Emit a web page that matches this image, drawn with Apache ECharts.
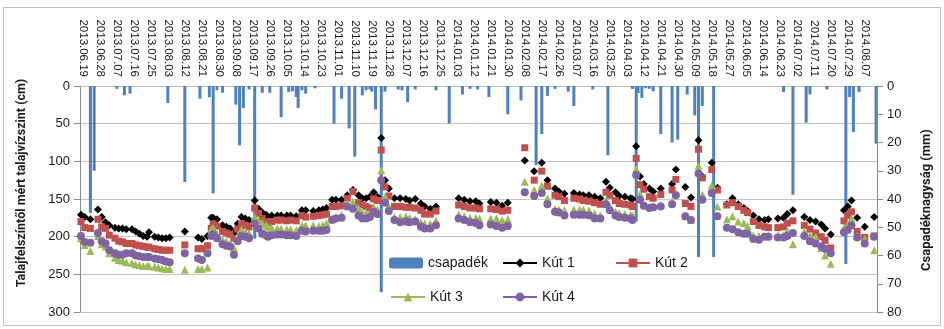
<!DOCTYPE html>
<html>
<head>
<meta charset="utf-8">
<script src="https://cdn.jsdelivr.net/npm/echarts@6.0.0/dist/echarts.min.js"></script>
<style>
  html, body { margin: 0; padding: 0; background: #ffffff; }
  #chart { width: 944px; height: 329px; }
</style>
</head>
<body>
<div id="chart"></div>
<script>
// Daily axis: one category per day starting at firstDay
const firstDay = [2013, 6, 18];
const dayCount = 422;

// Dates printed along the top axis (every 9th day)
const tickLabels = [
  '2013.06.19','2013.06.28','2013.07.07','2013.07.16','2013.07.25','2013.08.03','2013.08.12',
  '2013.08.21','2013.08.30','2013.09.08','2013.09.17','2013.09.26','2013.10.05','2013.10.14',
  '2013.10.23','2013.11.01','2013.11.10','2013.11.19','2013.11.28','2013.12.07','2013.12.16',
  '2013.12.25','2014.01.03','2014.01.12','2014.01.21','2014.01.30','2014.02.08','2014.02.17',
  '2014.02.26','2014.03.07','2014.03.16','2014.03.25','2014.04.03','2014.04.12','2014.04.21',
  '2014.04.30','2014.05.09','2014.05.18','2014.05.27','2014.06.05','2014.06.14','2014.06.23',
  '2014.07.02','2014.07.11','2014.07.20','2014.07.29','2014.08.07'
];

// Precipitation: day index (from firstDay) and amount in mm
const rainDay = [5,7,19,23,26,46,55,63,68,70,72,75,82,84,86,89,92,96,100,106,110,112,114,115,117,119,124,
  134,138,142,145,149,151,153,154,156,159,161,168,170,173,177,188,195,202,206,210,216,226,233,241,244,247,
  251,258,261,271,279,292,294,295,297,299,301,303,307,313,316,321,325,327,329,335,372,377,384,386,395,405,
  407,409,412,421];
const rainMm = [45,30,1,3.3,2.7,6,34,4.5,4,38,1.5,2.4,6.6,21,7.8,1.2,54,2.4,2.4,11,2.1,1.9,3.9,7.8,1.5,2.7,0.8,
  13.3,4.5,15,25,3.3,1.5,1.2,2,8.3,73,2,1.2,1.5,5.7,1.2,1.5,13.3,3,1,1.2,3.9,10,5.1,28,17,3.5,
  1,2,7.1,1.2,24.5,1,48,2.5,4.2,0.8,1,1.9,17,20,19,3,10.4,60.5,7.1,60.5,2.1,38.5,13,3,1.2,63,
  3.9,16.3,2.1,20.4];

// Groundwater readings: day index (from firstDay) of each measurement
const measureDay = [
  0,2,5,9,11,13,15,18,20,22,24,27,29,31,33,35,36,39,41,43,45,47,
  55,62,64,67,69,70,72,75,77,79,81,83,85,87,89,92,94,96,98,99,101,
  104,106,109,111,114,117,119,123,126,128,130,133,135,138,141,144,147,149,151,153,155,157,159,161,163,166,169,172,174,177,180,182,185,188,
  200,203,206,209,211,217,220,223,226,
  235,240,244,247,251,253,256,261,264,266,269,272,275,278,280,283,285,288,291,292,
  294,296,298,301,303,307,313,315,320,323,327,329,334,337,342,345,348,351,353,356,359,362,364,369,372,374,377,383,386,389,392,394,397,
  404,406,408,411,415,420
];

// Depth below ground surface (cm), one value per measurement day
const kut1 = [
  171,174,177,164,174,181,185,188,189,189,190,190,193,196,199,200,194,200,201,202,202,201,
  193,201,203,199,175,175,177,185,187,189,195,183,174,176,178,152,163,168,171,174,172,
  172,172,172,172,173,165,165,166,165,164,162,151,151,151,145,138,145,149,149,147,141,147,69,125,136,149,149,150,152,150,156,160,163,160,
  149,151,153,153,156,154,155,159,155,
  99,113,102,125,136,140,143,142,144,145,145,147,149,127,135,141,146,147,149,150,
  80,120,130,136,140,136,130,111,134,148,72,120,102,135,157,149,157,162,166,172,177,178,177,176,175,170,165,174,178,180,184,189,197,
  165,160,152,175,187,174
];
const kut2 = [
  180,188,189,177,187,189,198,202,206,207,209,209,211,212,213,214,214,216,217,218,218,218,
  211,216,216,212,189,183,186,193,195,197,202,190,183,185,187,162,169,176,180,181,180,
  178,178,179,178,179,172,174,173,172,171,170,160,160,159,149,140,155,158,160,162,150,152,85,134,146,160,160,161,161,162,165,170,170,166,
  158,160,162,162,163,163,164,166,165,
  82,125,113,133,145,147,152,149,150,152,153,155,157,141,145,152,156,157,158,160,
  96,131,137,147,149,144,138,124,156,160,84,122,111,138,158,155,160,165,168,180,185,187,188,188,187,182,179,185,190,195,200,205,215,
  179,172,167,193,201,199
];
const kut3 = [
  202,211,219,199,210,213,222,228,231,232,234,235,237,238,239,239,239,240,241,242,243,243,
  244,243,243,241,190,188,196,204,206,209,215,199,190,193,195,174,178,182,185,187,188,
  189,189,190,190,191,185,185,185,186,185,182,176,174,172,156,154,162,167,169,169,161,164,112,147,160,174,174,173,175,177,181,183,183,179,
  171,173,175,175,176,176,176,178,177,
  127,138,132,149,163,164,165,164,164,164,165,169,172,152,160,167,169,170,171,172,
  110,143,157,160,160,158,153,142,173,178,106,144,132,160,177,173,180,182,186,198,199,199,198,198,198,192,210,193,198,200,215,225,236,
  188,183,176,199,203,218
];
const kut4 = [
  199,207,208,195,206,209,218,222,224,224,222,222,225,226,227,227,227,229,230,231,233,234,
  222,229,231,222,199,197,202,210,212,213,224,206,199,200,202,183,189,196,198,200,198,
  197,197,198,198,199,192,193,192,192,192,191,178,176,175,160,163,172,176,176,174,167,170,125,155,166,178,181,180,181,180,187,189,189,185,
  176,178,181,182,185,184,186,188,186,
  141,146,142,157,167,168,172,171,171,171,172,176,176,157,165,172,174,175,176,178,
  118,151,159,162,161,160,157,145,173,178,116,151,142,173,188,190,194,196,196,203,204,200,200,201,201,199,195,199,206,209,213,216,222,
  194,191,185,201,209,200
];

// ---- build daily category list and gap-filled series ----
const pad = n => String(n).padStart(2, '0');
const categories = [];
const t0 = Date.UTC(firstDay[0], firstDay[1] - 1, firstDay[2]);
for (let i = 0; i < dayCount; i++) {
  const d = new Date(t0 + i * 86400000);
  categories.push(d.getUTCFullYear() + '.' + pad(d.getUTCMonth() + 1) + '.' + pad(d.getUTCDate()));
}
function spread(days, values) {
  const out = new Array(dayCount).fill('-');
  days.forEach((day, k) => { out[day] = values[k]; });
  return out;
}
const tickSet = new Set(tickLabels);

const FONT = 'Liberation Sans, Arial, sans-serif';
const lineSeries = (name, values, color, symbol, size) => ({
  name, type: 'line', yAxisIndex: 0,
  data: spread(measureDay, values),
  connectNulls: false,
  showAllSymbol: true,
  symbol, symbolSize: size,
  lineStyle: { color, width: 2.5 },
  itemStyle: { color },
  emphasis: { disabled: true },
  z: 3
});

const legendText = { fontFamily: FONT, fontSize: 14, color: '#1a1a1a' };
const legendAt = (name, left, top) => ({
  data: [name], left, top, padding: 0, itemWidth: 34, itemHeight: 11,
  selectedMode: false, textStyle: legendText
});

const chart = echarts.init(document.getElementById('chart'), null, { renderer: 'canvas' });
chart.setOption({
  animation: false,
  backgroundColor: '#ffffff',
  grid: { left: 80, right: 67, top: 86, bottom: 17 },
  legend: [
    legendAt('csapadék', 389, 256),
    legendAt('Kút 1', 502, 256),
    legendAt('Kút 2', 615, 256),
    legendAt('Kút 3', 390, 290),
    legendAt('Kút 4', 502, 290)
  ],
  xAxis: {
    type: 'category',
    position: 'top',
    data: categories,
    boundaryGap: true,
    axisLine: { show: true, onZero: false, lineStyle: { color: '#bfbfbf' } },
    axisTick: { show: false },
    splitLine: { show: false },
    axisLabel: {
      interval: (i, v) => tickSet.has(v),
      rotate: 90,
      margin: 9,
      fontFamily: FONT,
      fontSize: 11.5,
      color: '#1a1a1a'
    }
  },
  yAxis: [
    {
      type: 'value', inverse: true, min: 0, max: 300, interval: 50,
      axisLine: { show: true, lineStyle: { color: '#8c8c8c' } },
      axisTick: { show: true, length: 6, lineStyle: { color: '#8c8c8c' } },
      splitLine: { show: true, lineStyle: { color: '#c4c4c4', width: 1 } },
      axisLabel: { margin: 10, fontFamily: FONT, fontSize: 13, color: '#1a1a1a' }
    },
    {
      type: 'value', inverse: true, min: 0, max: 80, interval: 10,
      axisLine: { show: true, lineStyle: { color: '#8c8c8c' } },
      axisTick: { show: true, length: 6, lineStyle: { color: '#8c8c8c' } },
      splitLine: { show: false },
      axisLabel: { margin: 10, fontFamily: FONT, fontSize: 13, color: '#1a1a1a' }
    }
  ],
  series: [
    {
      name: 'csapadék', type: 'bar', yAxisIndex: 1,
      data: spread(rainDay, rainMm),
      barWidth: 3,
      itemStyle: { color: '#4f81bd' },
      emphasis: { disabled: true },
      z: 2
    },
    lineSeries('Kút 1', kut1, '#000000', 'diamond', 8),
    lineSeries('Kút 2', kut2, '#c0504d', 'rect', 7),
    lineSeries('Kút 3', kut3, '#9bbb59', 'triangle', 8),
    lineSeries('Kút 4', kut4, '#8064a2', 'circle', 8)
  ],
  graphic: [
    {
      type: 'rect', silent: true,
      shape: { x: 3.5, y: 7.5, width: 937, height: 318 },
      style: { fill: 'none', stroke: '#bfbfbf', lineWidth: 1 }
    },
    {
      type: 'text', silent: true, x: 22, y: 183, rotation: Math.PI / 2,
      style: {
        text: 'Talajfelszíntől mért talajvízszint (cm)',
        fontFamily: 'Roboto, sans-serif', fontWeight: 'bold', fontSize: 12.5,
        fill: '#1a1a1a', align: 'center', verticalAlign: 'middle'
      }
    },
    {
      type: 'text', silent: true, x: 927, y: 200, rotation: Math.PI / 2,
      style: {
        text: 'Csapadéknagyság (mm)',
        fontFamily: 'Roboto, sans-serif', fontWeight: 'bold', fontSize: 13,
        fill: '#1a1a1a', align: 'center', verticalAlign: 'middle'
      }
    }
  ]
});
</script>
</body>
</html>
